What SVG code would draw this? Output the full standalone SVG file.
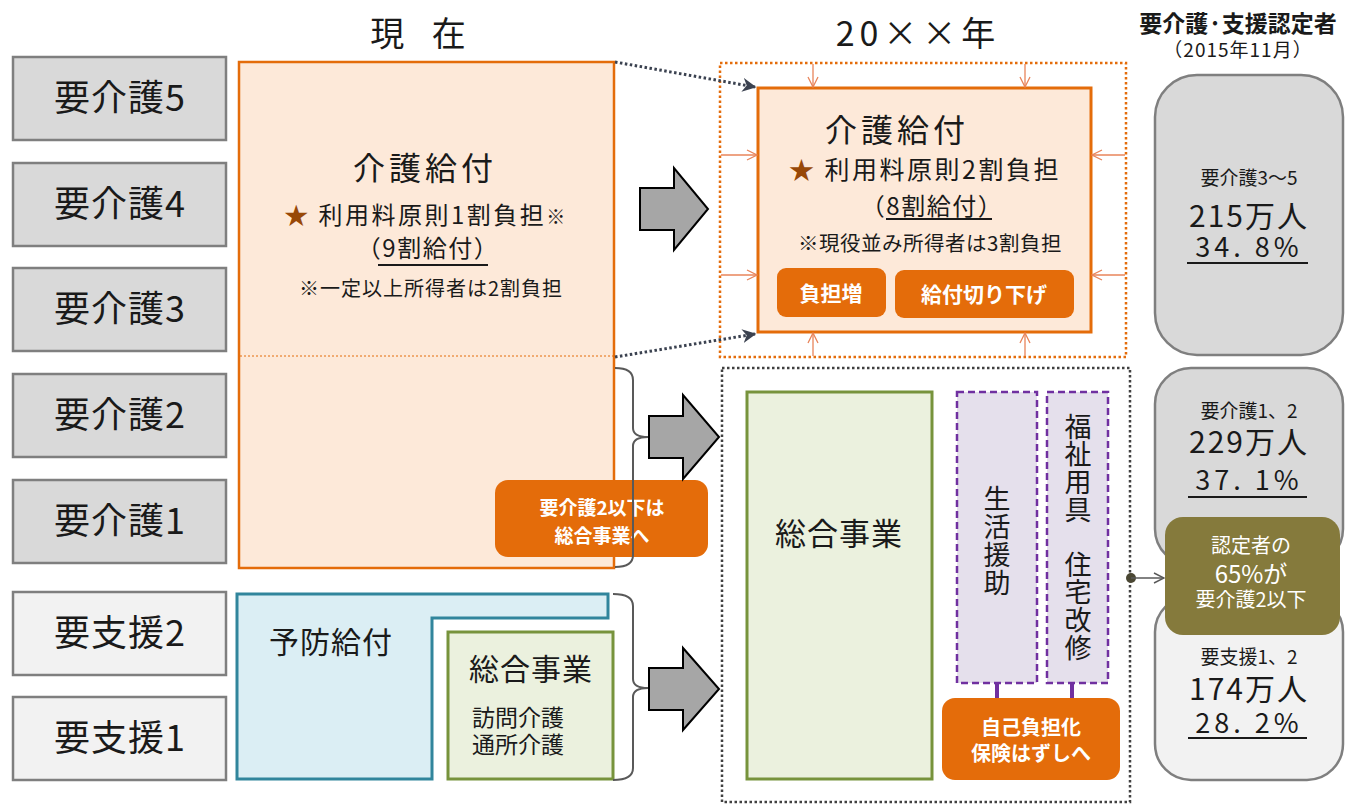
<svg xmlns="http://www.w3.org/2000/svg" width="1348" height="808" viewBox="0 0 1348 808">
<defs>
<style>
text{font-family:"Noto Sans CJK JP","Noto Sans",sans-serif;fill:#1a1a1a}
.mid{text-anchor:middle}
.lbl{font-size:36px;text-anchor:middle;letter-spacing:1px}
.lv{fill:#d9d9d9;stroke:#7f7f7f;stroke-width:2.5}
.ls{fill:#f2f2f2;stroke:#7f7f7f;stroke-width:2.5}
.kaigo{fill:#fde9d9;stroke:#e46c0a;stroke-width:2.5}
.btn{fill:#e46c0a}
.wt{fill:#ffffff;font-weight:bold;text-anchor:middle}
.green{fill:#ebf1de;stroke:#77933c;stroke-width:3}
.purple{fill:#e5e0ec;stroke:#7030a0;stroke-width:2.5;stroke-dasharray:7 4}
.blk{fill:#a6a6a6;stroke:#000000;stroke-width:2}
.brace{fill:none;stroke:#595959;stroke-width:2}
.small{fill:none;stroke:#e8845a;stroke-width:1.3}
.dots{fill:none;stroke:#3b4250;stroke-width:3;stroke-dasharray:2.5 2.5}
.stat{fill:#d9d9d9;stroke:#7f7f7f;stroke-width:2.5}
.stat2{fill:#f2f2f2;stroke:#7f7f7f;stroke-width:2.5}
.ul{stroke:#1a1a1a;stroke-width:1.8}
.big{font-size:30px;letter-spacing:2px}
.pct{font-size:27px;letter-spacing:4px}
.sub{font-size:19px}
.vt{writing-mode:vertical-rl;font-size:27px}
</style>
<marker id="dhead" viewBox="0 0 10 10" refX="9" refY="5" markerWidth="14" markerHeight="14" orient="auto" markerUnits="userSpaceOnUse"><path d="M0,0 L10,5 L0,10 L3,5 z" fill="#3b4250"/></marker>
<marker id="oarr" viewBox="0 0 12 12" refX="11" refY="6" markerWidth="12" markerHeight="12" orient="auto" markerUnits="userSpaceOnUse"><path d="M1,1 L11,6 L1,11" fill="none" stroke="#e8845a" stroke-width="1.3"/></marker>
<marker id="garr" viewBox="0 0 12 12" refX="11" refY="6" markerWidth="12" markerHeight="12" orient="auto" markerUnits="userSpaceOnUse"><path d="M1,1 L11,6 L1,11" fill="none" stroke="#595959" stroke-width="1.4"/></marker>
</defs>
<rect width="1348" height="808" fill="#ffffff"/>

<!-- headers -->
<g id="headers">
<text x="423" y="46" class="mid" style="font-size:34px;letter-spacing:10px">現 在</text>
<text x="918" y="46" class="mid" style="font-size:34px;letter-spacing:5px">20××年</text>
<text x="1238" y="32" class="mid" style="font-size:23px;font-weight:bold">要介護·支援認定者</text>
<text x="1238" y="57" class="mid" style="font-size:19px;letter-spacing:1px">（2015年11月）</text>
</g>

<!-- left level labels -->
<g id="lvl-kaigo5"><rect x="13" y="57" width="213" height="83" class="lv"/><text x="120" y="111" class="lbl">要介護5</text></g>
<g id="lvl-kaigo4"><rect x="13" y="163" width="213" height="83" class="lv"/><text x="120" y="217" class="lbl">要介護4</text></g>
<g id="lvl-kaigo3"><rect x="13" y="268" width="213" height="83" class="lv"/><text x="120" y="322" class="lbl">要介護3</text></g>
<g id="lvl-kaigo2"><rect x="13" y="374" width="213" height="83" class="lv"/><text x="120" y="428" class="lbl">要介護2</text></g>
<g id="lvl-kaigo1"><rect x="13" y="480" width="213" height="83" class="lv"/><text x="120" y="534" class="lbl">要介護1</text></g>
<g id="lvl-shien2"><rect x="13" y="592" width="213" height="83" class="ls"/><text x="120" y="646" class="lbl">要支援2</text></g>
<g id="lvl-shien1"><rect x="13" y="697" width="213" height="83" class="ls"/><text x="120" y="751" class="lbl">要支援1</text></g>

<!-- current kaigo kyufu -->
<g id="now-kaigo">
<rect x="239" y="62" width="375" height="506" class="kaigo"/>
<line x1="240" y1="356" x2="613" y2="356" stroke="#e46c0a" stroke-width="1" stroke-dasharray="2 2"/>
<text x="425" y="180" class="mid" style="font-size:32px;letter-spacing:4px">介護給付</text>
<text x="426" y="224" class="mid" style="font-size:24px;letter-spacing:2.5px"><tspan fill="#984807">★</tspan> 利用料原則1割負担<tspan style="font-size:19px">※</tspan></text>
<text x="428" y="257" class="mid" style="font-size:24px;letter-spacing:1.5px">（9割給付）</text>
<line x1="378" y1="265" x2="488" y2="265" class="ul"/>
<text x="431" y="296" class="mid" style="font-size:20px;letter-spacing:1px">※一定以上所得者は2割負担</text>
</g>

<g id="note-kaigo2">
<rect x="495" y="480" width="213" height="77" rx="13" class="btn"/>
<text class="wt" style="font-size:19px"><tspan x="602" y="515">要介護2以下は</tspan><tspan x="602" y="543">総合事業へ</tspan></text>
</g>

<!-- yobo kyufu -->
<g id="now-yobo">
<path d="M237,594 H608 V618 H432 V779 H237 Z" fill="#dbeef4" stroke="#31859c" stroke-width="3"/>
<text x="331" y="653" class="mid" style="font-size:30px;letter-spacing:1px">予防給付</text>
</g>
<g id="now-sogo">
<rect x="448" y="632" width="165" height="147" class="green"/>
<text x="531" y="680" class="mid" style="font-size:30px;letter-spacing:1px">総合事業</text>
<text style="font-size:23px"><tspan x="472" y="726">訪問介護</tspan><tspan x="472" y="753">通所介護</tspan></text>
</g>

<!-- future kaigo kyufu -->
<g id="future-kaigo">
<rect x="720" y="63" width="406" height="294" fill="none" stroke="#e46c0a" stroke-width="2.5" stroke-dasharray="2.5 2.5"/>
<rect x="758" y="88" width="333" height="244" class="kaigo" style="stroke-width:3"/>
<text x="897" y="142" class="mid" style="font-size:32px;letter-spacing:4px">介護給付</text>
<text x="925" y="179" class="mid" style="font-size:25px;letter-spacing:2.5px"><tspan fill="#984807">★</tspan> 利用料原則2割負担</text>
<text x="932" y="215" class="mid" style="font-size:24px;letter-spacing:1.5px">（8割給付）</text>
<line x1="886" y1="219" x2="992" y2="219" class="ul"/>
<text x="930" y="251" class="mid" style="font-size:20.5px;letter-spacing:0.5px">※現役並み所得者は3割負担</text>
</g>
<g id="btn-futanzo">
<rect x="777" y="268" width="109" height="49" rx="9" class="btn"/>
<text x="831" y="301" class="wt" style="font-size:21px">負担増</text>
</g>
<g id="btn-kirisage">
<rect x="895" y="270" width="179" height="48" rx="9" class="btn"/>
<text x="984" y="302" class="wt" style="font-size:21px">給付切り下げ</text>
</g>

<!-- future sogo jigyo -->
<g id="future-area">
<rect x="722" y="368" width="408" height="434" fill="none" stroke="#404040" stroke-width="2.5" stroke-dasharray="2.5 2.5"/>
</g>
<g id="future-sogo">
<rect x="747" y="392" width="185" height="387" class="green"/>
<text x="839" y="545" class="mid" style="font-size:31px;letter-spacing:1px">総合事業</text>
</g>
<g id="seikatsu">
<rect x="957" y="392" width="80" height="291" class="purple"/>
<text x="997" y="485" class="vt" style="letter-spacing:1px">生活援助</text>
</g>
<g id="fukushi">
<rect x="1047" y="392" width="61" height="291" class="purple"/>
<text x="1078" y="413" class="vt" style="letter-spacing:0.6px">福祉用具　住宅改修</text>
</g>
<g id="jiko-futan">
<rect x="942" y="698" width="178" height="82" rx="13" class="btn"/>
<text class="wt" style="font-size:20px"><tspan x="1031" y="735">自己負担化</tspan><tspan x="1031" y="761">保険はずしへ</tspan></text>
</g>

<!-- statistics -->
<g id="stat-kaigo35">
<rect x="1155" y="75" width="188" height="280" rx="42" class="stat"/>
<text class="mid"><tspan x="1249" y="185" class="sub">要介護3～5</tspan><tspan x="1249" y="227" class="big">215万人</tspan><tspan x="1249" y="257" class="pct">34. 8%</tspan></text>
<line x1="1187" y1="263" x2="1308" y2="263" class="ul"/>
</g>
<g id="stat-kaigo12">
<rect x="1155" y="368" width="188" height="197" rx="36" class="stat"/>
<text class="mid"><tspan x="1249" y="418" class="sub">要介護1、2</tspan><tspan x="1249" y="453" class="big">229万人</tspan><tspan x="1249" y="490" class="pct">37. 1%</tspan></text>
<line x1="1188" y1="497" x2="1307" y2="497" class="ul"/>
</g>
<g id="stat-shien12">
<rect x="1155" y="596" width="188" height="184" rx="36" class="stat2"/>
<text class="mid"><tspan x="1249" y="664" class="sub">要支援1、2</tspan><tspan x="1249" y="700" class="big">174万人</tspan><tspan x="1249" y="733" class="pct">28. 2%</tspan></text>
<line x1="1188" y1="738" x2="1307" y2="738" class="ul"/>
</g>
<g id="stat-65">
<rect x="1165" y="517" width="175" height="118" rx="18" fill="#857a3c"/>
<text class="wt" style="font-weight:normal;font-size:20px"><tspan x="1251" y="553">認定者の</tspan><tspan x="1251" y="583" style="font-size:24px">65%が</tspan><tspan x="1251" y="607">要介護2以下</tspan></text>
</g>

<!-- connectors -->
<g id="connectors">
<path d="M615,62 L755,87" class="dots" marker-end="url(#dhead)"/>
<path d="M615,357 L755,334" class="dots" marker-end="url(#dhead)"/>
<polygon points="640,188 674,188 674,168 708,209 674,250 674,230 640,230" class="blk"/>
<polygon points="649,416 683,416 683,395 719,437 683,479 683,458 649,458" class="blk"/>
<polygon points="649,668 683,668 683,648 719,689 683,730 683,710 649,710" class="blk"/>
<path d="M615,368 Q633,368 633,380 V428 Q633,437 648,437 Q633,437 633,446 V555 Q633,567 615,567" class="brace"/>
<path d="M613,594 Q633,594 633,606 V679 Q633,688 648,688 Q633,688 633,697 V768 Q633,780 613,780" class="brace"/>
<line x1="813" y1="64" x2="813" y2="87" class="small" marker-end="url(#oarr)"/>
<line x1="1025" y1="64" x2="1025" y2="87" class="small" marker-end="url(#oarr)"/>
<line x1="813" y1="356" x2="813" y2="333" class="small" marker-end="url(#oarr)"/>
<line x1="1025" y1="356" x2="1025" y2="333" class="small" marker-end="url(#oarr)"/>
<line x1="721" y1="155" x2="757" y2="155" class="small" marker-end="url(#oarr)"/>
<line x1="721" y1="275" x2="757" y2="275" class="small" marker-end="url(#oarr)"/>
<line x1="1125" y1="155" x2="1092" y2="155" class="small" marker-end="url(#oarr)"/>
<line x1="1125" y1="275" x2="1092" y2="275" class="small" marker-end="url(#oarr)"/>
<line x1="997" y1="684" x2="997" y2="698" stroke="#7030a0" stroke-width="4"/>
<line x1="1072" y1="684" x2="1072" y2="698" stroke="#7030a0" stroke-width="4"/>
<circle cx="1131" cy="578" r="5" fill="#4a4733"/>
<line x1="1131" y1="578" x2="1164" y2="578" stroke="#595959" stroke-width="1.4" marker-end="url(#garr)"/>
</g>
</svg>
